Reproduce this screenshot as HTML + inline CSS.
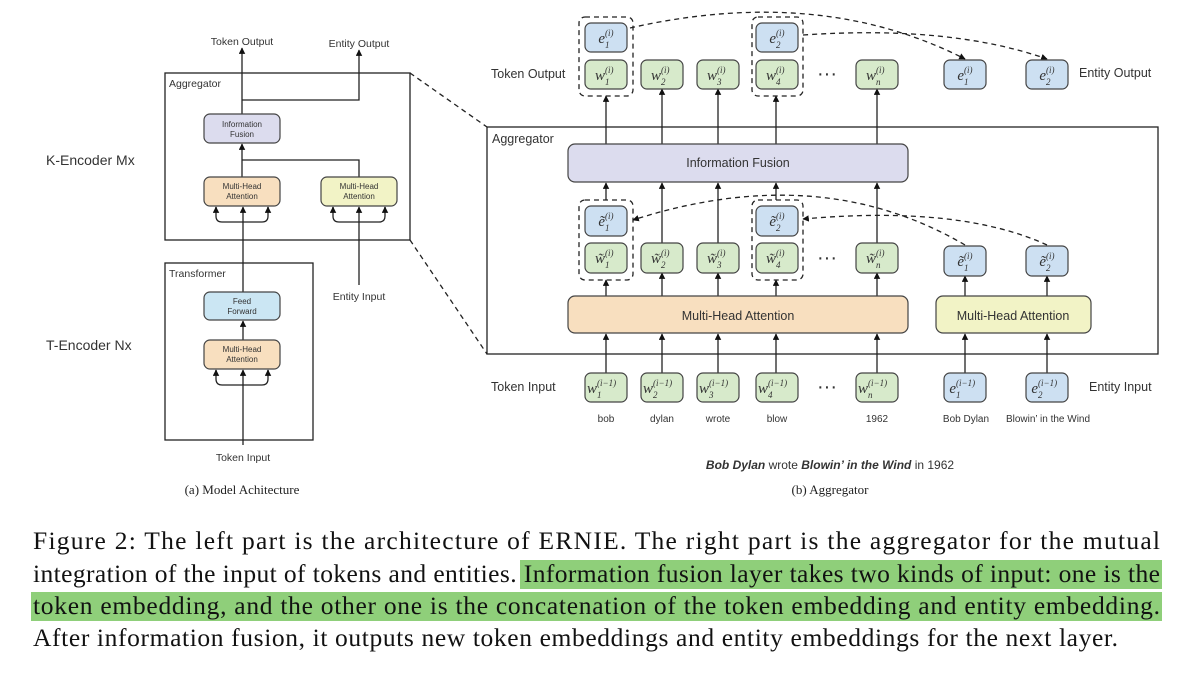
<!DOCTYPE html>
<html><head><meta charset="utf-8"><style>
body{margin:0;background:#fff}
svg{display:block}
.s{font-family:"Liberation Sans",sans-serif;fill:#333}
.m{font-family:"Liberation Serif",serif;font-style:italic;fill:#333}
.c{font-family:"Liberation Serif",serif;fill:#111;font-size:25.5px}
</style></head><body>
<svg width="1200" height="676" viewBox="0 0 1200 676" xmlns="http://www.w3.org/2000/svg">
<defs>
<marker id="a" viewBox="0 0 10 10" refX="9" refY="5" markerWidth="5" markerHeight="5" orient="auto"><path d="M0,0L10,5L0,10z" fill="#111"/></marker>
</defs>
<g stroke="#222" stroke-width="1.3" fill="none">
<rect x="165" y="73" width="245" height="167"/>
<rect x="165" y="263" width="148" height="177"/>
<line x1="410" y1="73" x2="487" y2="127" stroke-dasharray="5,4"/>
<line x1="410" y1="240" x2="487" y2="354" stroke-dasharray="5,4"/>
<line x1="242" y1="114" x2="242" y2="48" marker-end="url(#a)"/>
<polyline points="242,100 359,100 359,50" marker-end="url(#a)"/>
<line x1="242" y1="177" x2="242" y2="144" marker-end="url(#a)"/>
<polyline points="359,177 359,160 242,160"/>
<line x1="243" y1="445" x2="243" y2="370" marker-end="url(#a)"/>
<line x1="243" y1="340" x2="243" y2="321" marker-end="url(#a)"/>
<line x1="243" y1="292" x2="243" y2="207" marker-end="url(#a)"/>
<path d="M216,207V216q0,6 6,6H262q6,0 6,-6V207"/>
<path d="M216,370V379q0,6 6,6H262q6,0 6,-6V370"/>
<line x1="359" y1="285" x2="359" y2="207" marker-end="url(#a)"/>
<path d="M333,207V216q0,6 6,6H379q6,0 6,-6V207"/>
<line x1="216" y1="212" x2="216" y2="207" marker-end="url(#a)"/>
<line x1="268" y1="212" x2="268" y2="207" marker-end="url(#a)"/>
<line x1="216" y1="375" x2="216" y2="370" marker-end="url(#a)"/>
<line x1="268" y1="375" x2="268" y2="370" marker-end="url(#a)"/>
<line x1="333" y1="212" x2="333" y2="207" marker-end="url(#a)"/>
<line x1="385" y1="212" x2="385" y2="207" marker-end="url(#a)"/>
</g>
<g stroke="#444" stroke-width="1.2">
<rect x="204" y="114" width="76" height="29" rx="6" fill="#dcdcee"/>
<rect x="204" y="177" width="76" height="29" rx="6" fill="#f8dfbf"/>
<rect x="321" y="177" width="76" height="29" rx="6" fill="#f2f3c6"/>
<rect x="204" y="292" width="76" height="28" rx="6" fill="#cbe6f3"/>
<rect x="204" y="340" width="76" height="29" rx="6" fill="#f8dfbf"/>
</g>
<g class="s" font-size="8" text-anchor="middle">
<text x="242" y="127">Information</text><text x="242" y="137">Fusion</text>
<text x="242" y="189">Multi-Head</text><text x="242" y="199">Attention</text>
<text x="359" y="189">Multi-Head</text><text x="359" y="199">Attention</text>
<text x="242" y="304">Feed</text><text x="242" y="314">Forward</text>
<text x="242" y="352">Multi-Head</text><text x="242" y="362">Attention</text>
</g>
<g class="s" font-size="10.5">
<text x="242" y="45" text-anchor="middle">Token Output</text>
<text x="359" y="47" text-anchor="middle">Entity Output</text>
<text x="169" y="87">Aggregator</text>
<text x="169" y="277">Transformer</text>
<text x="359" y="300" text-anchor="middle">Entity Input</text>
<text x="243" y="461" text-anchor="middle">Token Input</text>
</g>
<text class="s" x="46" y="165" font-size="14">K-Encoder  Mx</text>
<text class="s" x="46" y="350" font-size="14">T-Encoder  Nx</text>
<text x="242" y="494" text-anchor="middle" font-family="Liberation Serif,serif" font-size="13" fill="#222">(a) Model Achitecture</text>

<g stroke="#222" stroke-width="1.3" fill="none">
<rect x="487" y="127" width="671" height="227"/>
<line x1="606" y1="373" x2="606" y2="334" marker-end="url(#a)"/>
<line x1="662" y1="373" x2="662" y2="334" marker-end="url(#a)"/>
<line x1="718" y1="373" x2="718" y2="334" marker-end="url(#a)"/>
<line x1="776" y1="373" x2="776" y2="334" marker-end="url(#a)"/>
<line x1="877" y1="373" x2="877" y2="334" marker-end="url(#a)"/>
<line x1="965" y1="373" x2="965" y2="334" marker-end="url(#a)"/>
<line x1="1047" y1="373" x2="1047" y2="334" marker-end="url(#a)"/>
<line x1="606" y1="296" x2="606" y2="280" marker-end="url(#a)"/>
<line x1="662" y1="296" x2="662" y2="273" marker-end="url(#a)"/>
<line x1="718" y1="296" x2="718" y2="273" marker-end="url(#a)"/>
<line x1="776" y1="296" x2="776" y2="280" marker-end="url(#a)"/>
<line x1="877" y1="296" x2="877" y2="273" marker-end="url(#a)"/>
<line x1="965" y1="296" x2="965" y2="276" marker-end="url(#a)"/>
<line x1="1047" y1="296" x2="1047" y2="276" marker-end="url(#a)"/>
<line x1="606" y1="200" x2="606" y2="183" marker-end="url(#a)"/>
<line x1="662" y1="243" x2="662" y2="183" marker-end="url(#a)"/>
<line x1="718" y1="243" x2="718" y2="183" marker-end="url(#a)"/>
<line x1="776" y1="200" x2="776" y2="183" marker-end="url(#a)"/>
<line x1="877" y1="243" x2="877" y2="183" marker-end="url(#a)"/>
<line x1="606" y1="144" x2="606" y2="96" marker-end="url(#a)"/>
<line x1="662" y1="144" x2="662" y2="89" marker-end="url(#a)"/>
<line x1="718" y1="144" x2="718" y2="89" marker-end="url(#a)"/>
<line x1="776" y1="144" x2="776" y2="96" marker-end="url(#a)"/>
<line x1="877" y1="144" x2="877" y2="89" marker-end="url(#a)"/>
</g>
<g stroke="#222" stroke-width="1.3" fill="none" stroke-dasharray="5,4">
<rect x="579" y="17" width="54" height="79" rx="6"/>
<rect x="752" y="17" width="51" height="79" rx="6"/>
<rect x="579" y="200" width="54" height="80" rx="6"/>
<rect x="752" y="200" width="51" height="80" rx="6"/>
<path d="M630,28 Q820,-15 965,59" marker-end="url(#a)"/>
<path d="M803,35 Q950,25 1047,59" marker-end="url(#a)"/>
<path d="M965,245 Q820,160 633,220" marker-end="url(#a)"/>
<path d="M1047,245 Q960,205 803,219" marker-end="url(#a)"/>
</g>
<g stroke="#444" stroke-width="1.2">
<rect x="568" y="144" width="340" height="38" rx="7" fill="#dcdcee"/>
<rect x="568" y="296" width="340" height="37" rx="7" fill="#f8dfbf"/>
<rect x="936" y="296" width="155" height="37" rx="7" fill="#f2f3c6"/>
<g fill="#d7eacb">
<rect x="585" y="60" width="42" height="29" rx="6"/><rect x="641" y="60" width="42" height="29" rx="6"/><rect x="697" y="60" width="42" height="29" rx="6"/><rect x="756" y="60" width="42" height="29" rx="6"/><rect x="856" y="60" width="42" height="29" rx="6"/>
<rect x="585" y="243" width="42" height="30" rx="6"/><rect x="641" y="243" width="42" height="30" rx="6"/><rect x="697" y="243" width="42" height="30" rx="6"/><rect x="756" y="243" width="42" height="30" rx="6"/><rect x="856" y="243" width="42" height="30" rx="6"/>
<rect x="585" y="373" width="42" height="29" rx="6"/><rect x="641" y="373" width="42" height="29" rx="6"/><rect x="697" y="373" width="42" height="29" rx="6"/><rect x="756" y="373" width="42" height="29" rx="6"/><rect x="856" y="373" width="42" height="29" rx="6"/>
</g>
<g fill="#cde0f2">
<rect x="585" y="23" width="42" height="29" rx="6"/><rect x="756" y="23" width="42" height="29" rx="6"/>
<rect x="944" y="60" width="42" height="29" rx="6"/><rect x="1026" y="60" width="42" height="29" rx="6"/>
<rect x="585" y="206" width="42" height="30" rx="6"/><rect x="756" y="206" width="42" height="30" rx="6"/>
<rect x="944" y="246" width="42" height="30" rx="6"/><rect x="1026" y="246" width="42" height="30" rx="6"/>
<rect x="944" y="373" width="42" height="29" rx="6"/><rect x="1026" y="373" width="42" height="29" rx="6"/>
</g>
</g>
<!-- math labels: base ends at cx-1, sup/sub start at cx-1 -->
<g class="m">
<g font-size="15" text-anchor="end">
<text x="605" y="43">e</text><text x="776" y="43">e</text><text x="964" y="80">e</text><text x="1046" y="80">e</text>
<text x="605" y="80">w</text><text x="661" y="80">w</text><text x="717" y="80">w</text><text x="776" y="80">w</text><text x="876" y="80">w</text>
<text x="605" y="226">ẽ</text><text x="776" y="226">ẽ</text><text x="964" y="266">ẽ</text><text x="1046" y="266">ẽ</text>
<text x="605" y="263">w̃</text><text x="661" y="263">w̃</text><text x="717" y="263">w̃</text><text x="776" y="263">w̃</text><text x="876" y="263">w̃</text>
<text x="597" y="393">w</text><text x="653" y="393">w</text><text x="709" y="393">w</text><text x="768" y="393">w</text><text x="868" y="393">w</text><text x="956" y="393">e</text><text x="1038" y="393">e</text>
</g>
<g font-size="9">
<text x="605" y="36">(i)</text><text x="605" y="48">1</text>
<text x="776" y="36">(i)</text><text x="776" y="48">2</text>
<text x="964" y="73">(i)</text><text x="964" y="85">1</text>
<text x="1046" y="73">(i)</text><text x="1046" y="85">2</text>
<text x="605" y="73">(i)</text><text x="605" y="85">1</text>
<text x="661" y="73">(i)</text><text x="661" y="85">2</text>
<text x="717" y="73">(i)</text><text x="717" y="85">3</text>
<text x="776" y="73">(i)</text><text x="776" y="85">4</text>
<text x="876" y="73">(i)</text><text x="876" y="85">n</text>
<text x="605" y="219">(i)</text><text x="605" y="231">1</text>
<text x="776" y="219">(i)</text><text x="776" y="231">2</text>
<text x="964" y="259">(i)</text><text x="964" y="271">1</text>
<text x="1046" y="259">(i)</text><text x="1046" y="271">2</text>
<text x="605" y="256">(i)</text><text x="605" y="268">1</text>
<text x="661" y="256">(i)</text><text x="661" y="268">2</text>
<text x="717" y="256">(i)</text><text x="717" y="268">3</text>
<text x="776" y="256">(i)</text><text x="776" y="268">4</text>
<text x="876" y="256">(i)</text><text x="876" y="268">n</text>
<text x="597" y="386">(i−1)</text><text x="597" y="398">1</text>
<text x="653" y="386">(i−1)</text><text x="653" y="398">2</text>
<text x="709" y="386">(i−1)</text><text x="709" y="398">3</text>
<text x="768" y="386">(i−1)</text><text x="768" y="398">4</text>
<text x="868" y="386">(i−1)</text><text x="868" y="398">n</text>
<text x="956" y="386">(i−1)</text><text x="956" y="398">1</text>
<text x="1038" y="386">(i−1)</text><text x="1038" y="398">2</text>
</g>
</g>
<g class="s" font-size="20" text-anchor="middle"><text x="827" y="80">···</text><text x="827" y="264">···</text><text x="827" y="393">···</text></g>
<g class="s" font-size="12.5">
<text x="491" y="78">Token Output</text>
<text x="1079" y="77">Entity Output</text>
<text x="492" y="143">Aggregator</text>
<text x="491" y="391">Token Input</text>
<text x="1089" y="391">Entity Input</text>
<text x="738" y="167" text-anchor="middle">Information Fusion</text>
<text x="738" y="320" text-anchor="middle">Multi-Head Attention</text>
<text x="1013" y="320" text-anchor="middle">Multi-Head Attention</text>
</g>
<g class="s" font-size="10" text-anchor="middle">
<text x="606" y="422">bob</text><text x="662" y="422">dylan</text><text x="718" y="422">wrote</text><text x="777" y="422">blow</text><text x="877" y="422">1962</text>
<text x="966" y="422">Bob Dylan</text><text x="1048" y="422">Blowin’ in the Wind</text>
</g>
<text class="s" x="830" y="469" font-size="12" text-anchor="middle" fill="#111"><tspan font-weight="bold" font-style="italic">Bob Dylan</tspan> wrote <tspan font-weight="bold" font-style="italic">Blowin’ in the Wind</tspan> in 1962</text>
<text x="830" y="494" text-anchor="middle" font-family="Liberation Serif,serif" font-size="13" fill="#222">(b) Aggregator</text>

<rect x="520" y="560" width="642" height="29" fill="#8fcf7a"/>
<rect x="31" y="592" width="1131" height="29" fill="#8fcf7a"/>
<text class="c" x="33" y="549" textLength="1127" lengthAdjust="spacing">Figure 2:  The left part is the architecture of ERNIE. The right part is the aggregator for the mutual</text>
<text class="c" x="33" y="582" textLength="1127" lengthAdjust="spacing">integration of the input of tokens and entities. Information fusion layer takes two kinds of input: one is the</text>
<text class="c" x="33" y="614" textLength="1127" lengthAdjust="spacing">token embedding, and the other one is the concatenation of the token embedding and entity embedding.</text>
<text class="c" x="33" y="646" textLength="1085" lengthAdjust="spacing">After information fusion, it outputs new token embeddings and entity embeddings for the next layer.</text>
</svg>
</body></html>
